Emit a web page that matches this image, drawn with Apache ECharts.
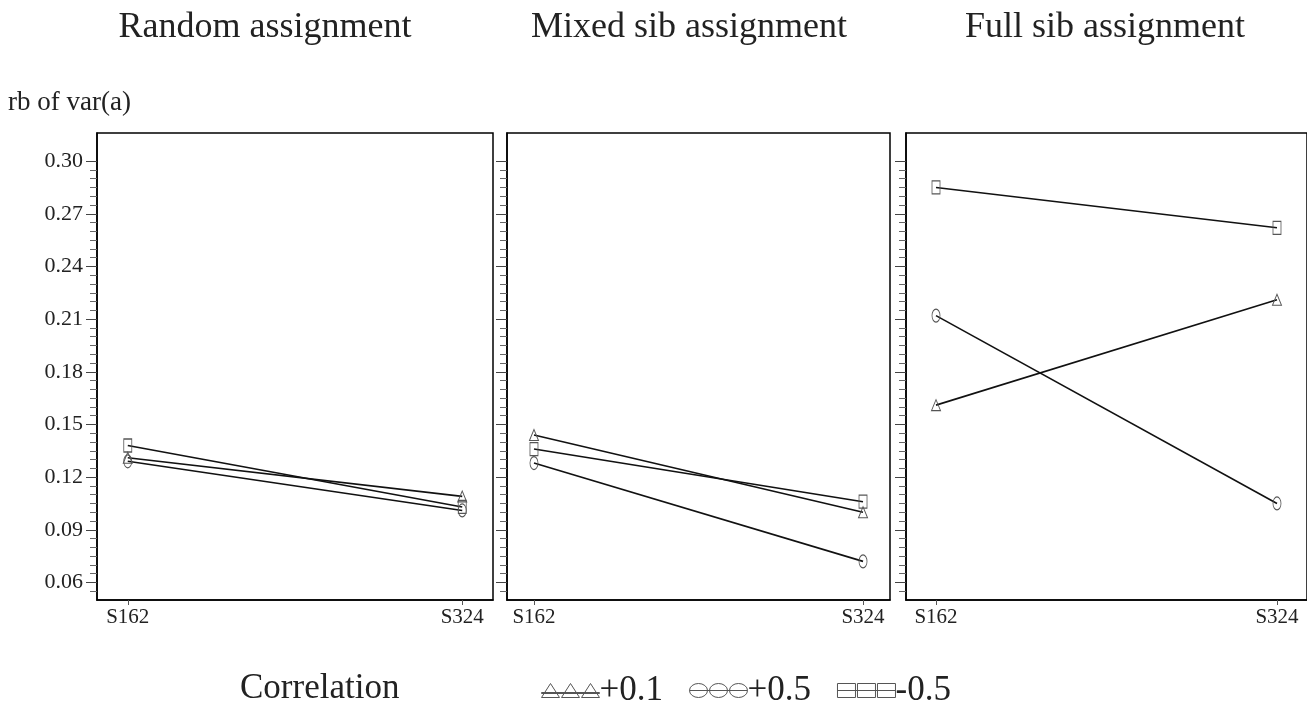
<!DOCTYPE html>
<html>
<head>
<meta charset="utf-8">
<script src="https://cdn.jsdelivr.net/npm/echarts@6/dist/echarts.min.js"></script>
<style>
  html, body { margin: 0; padding: 0; background: #fff; }
  #chart { width: 1307px; height: 707px; }
</style>
</head>
<body>
<div id="chart"></div>
<script>
// data
var categories = ['S162', 'S324']
var panelTitles = ['Random assignment', 'Mixed sib assignment', 'Full sib assignment']
var seriesNames = ['+0.1', '+0.5', '-0.5']

var randomTri = [0.131, 0.109]
var randomCirc = [0.129, 0.101]
var randomSq = [0.138, 0.103]

var mixedTri = [0.144, 0.100]
var mixedCirc = [0.128, 0.072]
var mixedSq = [0.136, 0.106]

var fullTri = [0.161, 0.221]
var fullCirc = [0.212, 0.105]
var fullSq = [0.285, 0.262]

var yTicks = [0.06, 0.09, 0.12, 0.15, 0.18, 0.21, 0.24, 0.27, 0.30]

var panels = [
  [randomTri, randomCirc, randomSq],
  [mixedTri, mixedCirc, mixedSq],
  [fullTri, fullCirc, fullSq]
]

var chart = echarts.init(document.getElementById('chart'))

var FONT = '"Liberation Serif", "DejaVu Serif", serif'
var symbols = ['triangle', 'circle', 'rect']
var symbolSizes = [[9, 11], [8, 13], [8, 13]]

// minor ticks every 0.005
var minorTicks = []
for (var i = 11; i <= 60; i++) minorTicks.push(+(i * 0.005).toFixed(3))

var grids = [
  { left: 97, width: 396, top: 133, bottom: 107, pad: 0.092 },
  { left: 507, width: 383, top: 133, bottom: 107, pad: 0.082 },
  { left: 906, width: 410, top: 133, bottom: 107, pad: 0.088 }
]

var xAxes = []
var yAxes = []
var series = []

grids.forEach(function (g, gi) {
  xAxes.push({
    type: 'value',
    gridIndex: gi,
    position: 'bottom',
    min: -g.pad,
    max: 1 + g.pad,
    splitLine: { show: false },
    axisLine: { show: true, onZero: false, lineStyle: { color: '#000', width: 1.5 } },
    axisTick: { show: true, customValues: [0, 1], length: 5, lineStyle: { color: '#555' } },
    axisLabel: {
      customValues: [0, 1],
      formatter: function (v) { return categories[Math.round(v)] },
      fontFamily: FONT, fontSize: 21, color: '#222', margin: 7
    }
  })
  // minor ticks axis
  yAxes.push({
    type: 'value',
    gridIndex: gi,
    position: 'left',
    min: 0.05,
    max: 0.316,
    splitLine: { show: false },
    axisLine: { show: true, onZero: false, lineStyle: { color: '#000', width: 1.5 } },
    axisTick: { show: true, customValues: minorTicks, length: 7, lineStyle: { color: '#666' } },
    axisLabel: { show: false }
  })
  // major ticks + labels
  yAxes.push({
    type: 'value',
    gridIndex: gi,
    position: 'left',
    min: 0.05,
    max: 0.316,
    splitLine: { show: false },
    axisLine: { show: false, onZero: false },
    axisTick: { show: true, customValues: yTicks, length: 11, lineStyle: { color: '#444' } },
    axisLabel: {
      show: gi === 0,
      customValues: yTicks,
      formatter: function (v) { return v.toFixed(2) },
      fontFamily: FONT, fontSize: 22, color: '#222', margin: 14
    }
  })

  panels[gi].forEach(function (vals, si) {
    series.push({
      name: seriesNames[si],
      type: 'line',
      xAxisIndex: gi,
      yAxisIndex: gi * 2,
      data: vals.map(function (v, k) { return [k, v] }),
      symbol: symbols[si],
      symbolSize: symbolSizes[si],
      showSymbol: true,
      lineStyle: { color: '#111', width: 1.6 },
      itemStyle: { color: 'transparent', borderColor: '#555', borderWidth: 1 },
      emphasis: { disabled: true },
      animation: false,
      z: 3
    })
  })
})

var triIcon = 'path://M0 14L9 0L18 14ZM20 14L29 0L38 14ZM40 14L49 0L58 14ZM0 9L58 9L58 10L0 10Z'
var circIcon = 'path://M9 0A9 7 0 1 0 9 14A9 7 0 1 0 9 0ZM29 0A9 7 0 1 0 29 14A9 7 0 1 0 29 0ZM49 0A9 7 0 1 0 49 14A9 7 0 1 0 49 0ZM0 7L58 7'
var sqIcon = 'path://M0 0L18 0L18 14L0 14ZM20 0L38 0L38 14L20 14ZM40 0L58 0L58 14L40 14ZM0 7L58 7'

chart.setOption({
  backgroundColor: '#fff',
  animation: false,
  grid: grids.map(function (g) {
    return {
      left: g.left, width: g.width, top: g.top, bottom: g.bottom,
      show: true, borderColor: '#000', borderWidth: 1.5, backgroundColor: 'transparent'
    }
  }),
  xAxis: xAxes,
  yAxis: yAxes,
  legend: {
    left: 536,
    top: 668,
    itemWidth: 58,
    itemHeight: 14,
    itemGap: 26,
    selectedMode: false,
    textStyle: { fontFamily: FONT, fontSize: 35, color: '#222', padding: [0, 0, 0, -5] },
    itemStyle: { color: 'transparent', borderColor: '#555', borderWidth: 1 },
    data: [
      { name: '+0.1', icon: triIcon },
      { name: '+0.5', icon: circIcon },
      { name: '-0.5', icon: sqIcon }
    ]
  },
  graphic: [
    { type: 'text', x: 265, y: 28, style: { text: panelTitles[0], font: '36px ' + FONT, fill: '#222', textAlign: 'center', textVerticalAlign: 'middle' } },
    { type: 'text', x: 689, y: 28, style: { text: panelTitles[1], font: '36px ' + FONT, fill: '#222', textAlign: 'center', textVerticalAlign: 'middle' } },
    { type: 'text', x: 1105, y: 28, style: { text: panelTitles[2], font: '36px ' + FONT, fill: '#222', textAlign: 'center', textVerticalAlign: 'middle' } },
    { type: 'text', x: 8, y: 103, style: { text: 'rb of var(a)', font: '27px ' + FONT, fill: '#222', textVerticalAlign: 'middle' } },
    { type: 'text', x: 240, y: 689, style: { text: 'Correlation', font: '35px ' + FONT, fill: '#222', textVerticalAlign: 'middle' } }
  ],
  series: series
})
</script>
</body>
</html>
